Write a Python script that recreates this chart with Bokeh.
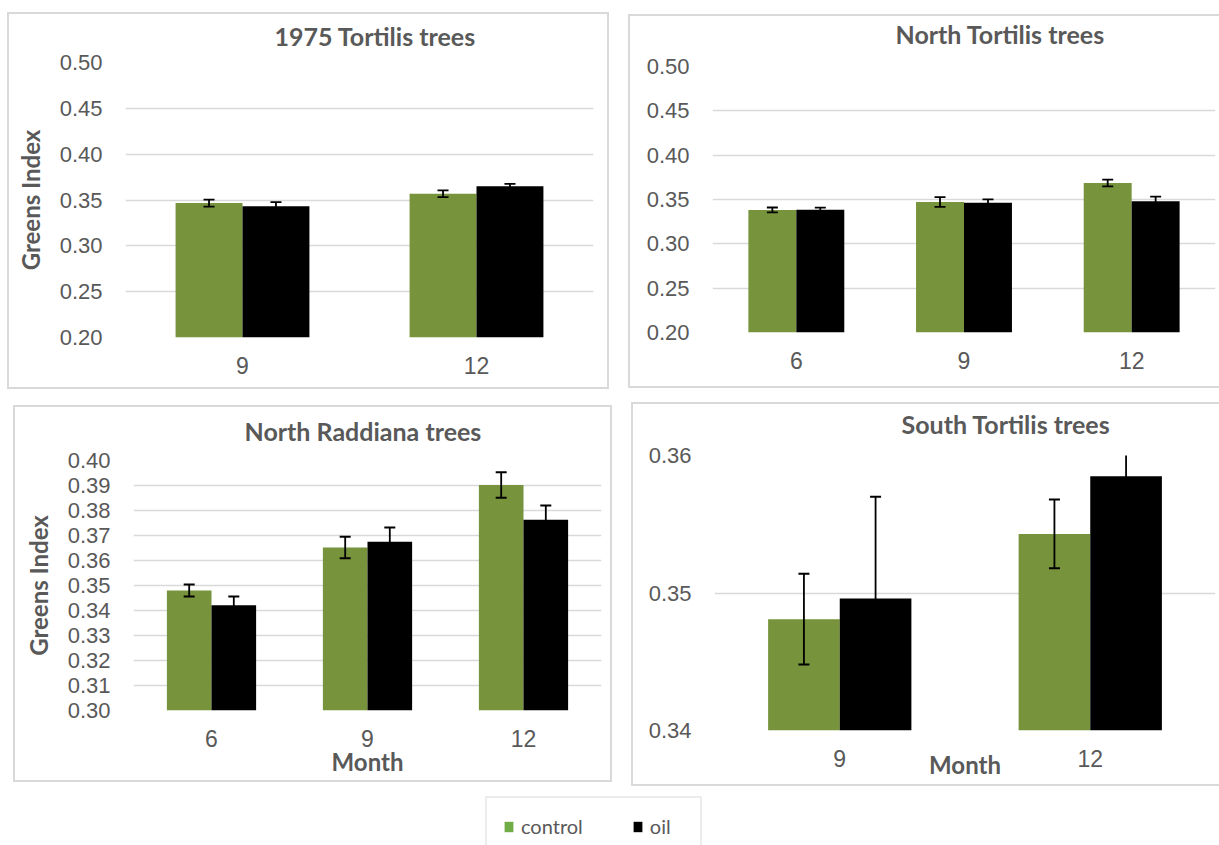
from bokeh.plotting import figure
from bokeh.models import (ColumnDataSource, FactorRange, Range1d, NumeralTickFormatter,
                          Legend, LegendItem)
from bokeh.transform import dodge
from bokeh.layouts import column, row
from bokeh.embed import file_html
from bokeh.resources import INLINE

# ---- data: Greens Index by month, mean and standard error ----
t1975_months = ["9", "12"]
t1975_control = [0.3466, 0.3568]
t1975_control_se = [0.0038, 0.0036]
t1975_oil = [0.3433, 0.3651]
t1975_oil_se = [0.0044, 0.0025]

ntort_months = ["6", "9", "12"]
ntort_control = [0.3382, 0.3472, 0.3687]
ntort_control_se = [0.0028, 0.0055, 0.0038]
ntort_oil = [0.3385, 0.3464, 0.3479]
ntort_oil_se = [0.0023, 0.0037, 0.0053]

nradd_months = ["6", "9", "12"]
nradd_control = [0.3480, 0.3652, 0.3902]
nradd_control_se = [0.0024, 0.0043, 0.0051]
nradd_oil = [0.3421, 0.3675, 0.3763]
nradd_oil_se = [0.0035, 0.0057, 0.0057]

stort_months = ["9", "12"]
stort_control = [0.3481, 0.3543]
stort_control_se = [0.0033, 0.0025]
stort_oil = [0.3496, 0.3585]
stort_oil_se = [0.0074, 0.0030]

series_names = ["control", "oil"]

GREEN = "#77933C"
LEGEND_GREEN = "#70AD47"
BLACK = "#000000"
TEXT = "#595959"
GRID = "#D9D9D9"
BORDER = "2px solid #D9D9D9"
TITLE_FONT = "Lato"
TICK_FONT = "Liberation Sans"

# the canvas reaches this far above its bordered box, leaving room for the title
LIFT = 20


def panel(title, months, control, control_se, oil, oil_se, y0, y1, ticks, *,
          width, height, left, right, top, bottom, title_offset, title_standoff,
          ylabel=None, xlabel=None, xlabel_standoff=0, bar_width=0.286):
    p = figure(width=width, height=height + LIFT, title=title,
               x_range=FactorRange(factors=months), y_range=Range1d(y0, y1),
               output_backend="svg", toolbar_location=None,
               min_border_left=left, min_border_right=right,
               min_border_top=top + LIFT, min_border_bottom=bottom,
               margin=(-LIFT, 0, 0, 0))
    p.outline_line_color = None
    p.background_fill_color = "white"
    p.border_fill_color = None

    p.title.align = "left"
    p.title.offset = title_offset
    p.title.standoff = title_standoff
    p.title.text_font = TITLE_FONT
    p.title.text_font_style = "bold"
    p.title.text_font_size = "25px"
    p.title.text_color = TEXT

    p.xgrid.visible = False
    p.ygrid.grid_line_color = GRID
    p.ygrid.grid_line_width = 1.5

    p.yaxis.ticker = ticks
    p.yaxis.formatter = NumeralTickFormatter(format="0.00")
    for ax in (p.xaxis[0], p.yaxis[0]):
        ax.axis_line_color = None
        ax.major_tick_line_color = None
        ax.minor_tick_line_color = None
        ax.major_tick_out = 0
        ax.major_tick_in = 0
        ax.major_label_text_color = TEXT
        ax.major_label_text_font = TICK_FONT
        ax.axis_label_text_color = TEXT
        ax.axis_label_text_font = TITLE_FONT
        ax.axis_label_text_font_style = "bold"
        ax.axis_label_text_font_size = "24px"
    p.yaxis.major_label_text_font_size = "22px"
    p.xaxis.major_label_text_font_size = "23px"
    p.yaxis.major_label_standoff = 23
    p.xaxis.major_label_standoff = 19

    if ylabel:
        p.yaxis.axis_label = ylabel
        p.yaxis.axis_label_standoff = 12
    if xlabel:
        p.xaxis.axis_label = xlabel
        p.xaxis.axis_label_standoff = xlabel_standoff

    half = bar_width / 2
    for name, vals, errs, color, off in (("control", control, control_se, GREEN, -half),
                                         ("oil", oil, oil_se, BLACK, half)):
        src = ColumnDataSource(dict(
            month=months, val=vals,
            lo=[v - e for v, e in zip(vals, errs)],
            hi=[v + e for v, e in zip(vals, errs)],
        ))
        xpos = dodge("month", off, range=p.x_range)
        p.vbar(x=xpos, top="val", bottom=y0, width=bar_width, source=src,
               fill_color=color, line_color=None)
        # standard-error bars
        p.segment(x0=xpos, y0="lo", x1=xpos, y1="hi", source=src,
                  line_color=BLACK, line_width=1.8)
        p.scatter(x=xpos, y="hi", source=src, marker="dash", size=11,
                  line_color=BLACK, line_width=1.8)
        p.scatter(x=xpos, y="lo", source=src, marker="dash", size=11,
                  line_color=BLACK, line_width=1.8)
    return p


def framed(p, margin, open_right=False):
    # chart-area border drawn around each chart
    if open_right:
        styles = {"border-top": BORDER, "border-left": BORDER, "border-bottom": BORDER}
    else:
        styles = {"border": BORDER}
    return column(p, styles=styles, margin=margin)


ticks_a = [0.20, 0.25, 0.30, 0.35, 0.40, 0.45, 0.50]
ticks_b = [0.30, 0.31, 0.32, 0.33, 0.34, 0.35, 0.36, 0.37, 0.38, 0.39, 0.40]
ticks_c = [0.34, 0.35, 0.36]

p1 = panel("1975 Tortilis trees", t1975_months, t1975_control, t1975_control_se,
           t1975_oil, t1975_oil_se, 0.20, 0.50, ticks_a,
           width=598, height=373, left=116, right=14, top=48, bottom=50,
           title_offset=149, title_standoff=23, ylabel="Greens Index")

p2 = panel("North Tortilis trees", ntort_months, ntort_control, ntort_control_se,
           ntort_oil, ntort_oil_se, 0.20, 0.50, ticks_a,
           width=589, height=370, left=82, right=4, top=50, bottom=54,
           title_offset=183, title_standoff=35)

p3 = panel("North Raddiana trees", nradd_months, nradd_control, nradd_control_se,
           nradd_oil, nradd_oil_se, 0.30, 0.40, ticks_b,
           width=595, height=373, left=118, right=9, top=53, bottom=70,
           title_offset=111, title_standoff=30, ylabel="Greens Index",
           xlabel="Month", xlabel_standoff=-3)

p4 = panel("South Tortilis trees", stort_months, stort_control, stort_control_se,
           stort_oil, stort_oil_se, 0.34, 0.36, ticks_c,
           width=586, height=380, left=81, right=4, top=51, bottom=54,
           title_offset=187, title_standoff=33,
           xlabel="Month", xlabel_standoff=-20)

row1 = row(framed(p1, (12, 0, 7, 7)), framed(p2, (14, 0, 8, 19), open_right=True))
row2 = row(framed(p3, (9, 0, 10, 13)), framed(p4, (6, 0, 6, 19), open_right=True))

# shared legend strip
lf = figure(width=1219, height=53, x_range=Range1d(0, 1), y_range=Range1d(0, 1),
            x_axis_type=None, y_axis_type=None, output_backend="svg",
            toolbar_location=None, min_border=0)
lf.outline_line_color = None
lf.grid.visible = False
swatch = ColumnDataSource(dict(x=[0.0], top=[0.0]))
r_control = lf.vbar(x="x", top="top", width=0.0, source=swatch,
                    fill_color=LEGEND_GREEN, line_color=None)
r_oil = lf.vbar(x="x", top="top", width=0.0, source=swatch,
                fill_color=BLACK, line_color=None)
legend = Legend(items=[LegendItem(label=series_names[0], renderers=[r_control]),
                       LegendItem(label=series_names[1], renderers=[r_oil])],
                orientation="horizontal", location=(485, -11),
                glyph_width=11, glyph_height=13, label_standoff=7, spacing=49,
                padding=16, margin=0, label_width=34,
                border_line_color="#D9D9D9", border_line_width=2,
                label_text_color=TEXT, label_text_font=TITLE_FONT,
                label_text_font_size="20px")
lf.add_layout(legend, "center")

layout = column(row1, row2, lf)

open("out.html", "w").write(file_html(layout, INLINE))
